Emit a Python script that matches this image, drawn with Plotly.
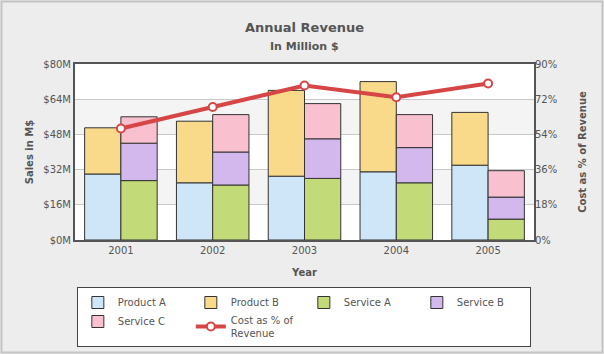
import plotly.graph_objects as go
import numpy as np

years = ["2001", "2002", "2003", "2004", "2005"]
product_a = [30, 26, 29, 31, 34]
product_b = [21, 28, 39, 41, 24]
service_a = [27, 25, 28, 26, 9.5]
service_b = [17, 15, 18, 16, 10]
service_c = [12, 17, 16, 15, 12]
cost_pct = [57, 68, 79, 73, 80]

FONT = "DejaVu Sans"
TXT = "#555555"

def bar(name, vals, base, color, group):
    return go.Bar(
        x=years, y=vals, base=base, name=name, offsetgroup=group,
        marker=dict(color=color, line=dict(color="#333333", width=1)),
        hovertemplate="%{x}: $%{y}M<extra>" + name + "</extra>",
    )

pa = np.array(product_a); pb = np.array(product_b)
sa = np.array(service_a); sb = np.array(service_b); sc = np.array(service_c)

fig = go.Figure()
fig.add_trace(bar("Product A", pa, [0]*5, "#CFE6F9", "1"))
fig.add_trace(bar("Product B", pb, pa, "#F9D98A", "1"))
fig.add_trace(bar("Service A", sa, [0]*5, "#C2DA78", "2"))
fig.add_trace(bar("Service B", sb, sa, "#D3B8EE", "2"))
fig.add_trace(bar("Service C", sc, sa + sb, "#F9C0D0", "2"))
fig.add_trace(go.Scatter(
    x=years, y=cost_pct, name="Cost as % of<br>Revenue", yaxis="y2",
    mode="lines+markers",
    line=dict(color="#D64646", width=4),
    marker=dict(symbol="circle", size=8, color="white", line=dict(color="#D64646", width=2)),
))

pw, ph = 604 - 75 - 70, 354 - 64 - 114
shapes = []
for lo, hi in [(16, 32), (48, 64)]:
    shapes.append(dict(type="rect", xref="paper", yref="y", x0=0, x1=1, y0=lo, y1=hi,
                       fillcolor="#F4F4F4", line=dict(width=0), layer="below"))
shapes.append(dict(type="rect", xref="paper", yref="paper",
                   x0=(1.5 - 75) / pw, x1=(602.5 - 75) / pw,
                   y0=(240 - 352.5) / ph, y1=(240 - 1.5) / ph,
                   line=dict(color="#C4C4C4", width=2), fillcolor="rgba(0,0,0,0)", layer="below"))

fig.update_layout(
    width=604, height=354,
    margin=dict(l=75, r=70, t=64, b=114, autoexpand=False),
    paper_bgcolor="#EDEDED", plot_bgcolor="white",
    barmode="group", bargap=0.21, bargroupgap=0,
    font=dict(family=FONT, size=10, color=TXT),
    shapes=shapes,
    showlegend=True,
    legend=dict(orientation="h", x=0.004, xanchor="left", y=(240 - 287) / ph, yanchor="top",
                bgcolor="white", bordercolor="#444444", borderwidth=1,
                entrywidth=68, entrywidthmode="pixels",
                font=dict(family=FONT, size=10, color=TXT), tracegroupgap=0,
                itemwidth=30),
    annotations=[
        dict(text="<b>Annual Revenue</b>", x=0.5, xref="paper", y=(240 - 27) / ph, yref="paper",
             showarrow=False, yanchor="middle", font=dict(family=FONT, size=13, color=TXT)),
        dict(text="<b>In Million $</b>", x=0.5, xref="paper", y=(240 - 46) / ph, yref="paper",
             showarrow=False, yanchor="middle", font=dict(family=FONT, size=11, color=TXT)),
    ],
    xaxis=dict(title=dict(text="<b>Year</b>", font=dict(size=10, color=TXT), standoff=14),
               showline=True, linecolor="#555555", linewidth=2, mirror=True,
               ticks="", tickfont=dict(size=10, color=TXT)),
    yaxis=dict(range=[0, 80], dtick=16, tickprefix="$", ticksuffix="M",
               title=dict(text="<b>Sales in M$</b>", font=dict(size=10, color=TXT), standoff=8),
               showline=True, linecolor="#555555", linewidth=2, mirror=True,
               gridcolor="#C8C8C8", gridwidth=1, zeroline=False,
               tickfont=dict(size=10, color=TXT)),
    yaxis2=dict(range=[0, 90], dtick=18, ticksuffix="%", overlaying="y", side="right",
                title=dict(text="<b>Cost as % of Revenue</b>", font=dict(size=10, color=TXT), standoff=22),
                showgrid=False, zeroline=False, tickfont=dict(size=10, color=TXT)),
)

fig.write_html("out.html")
